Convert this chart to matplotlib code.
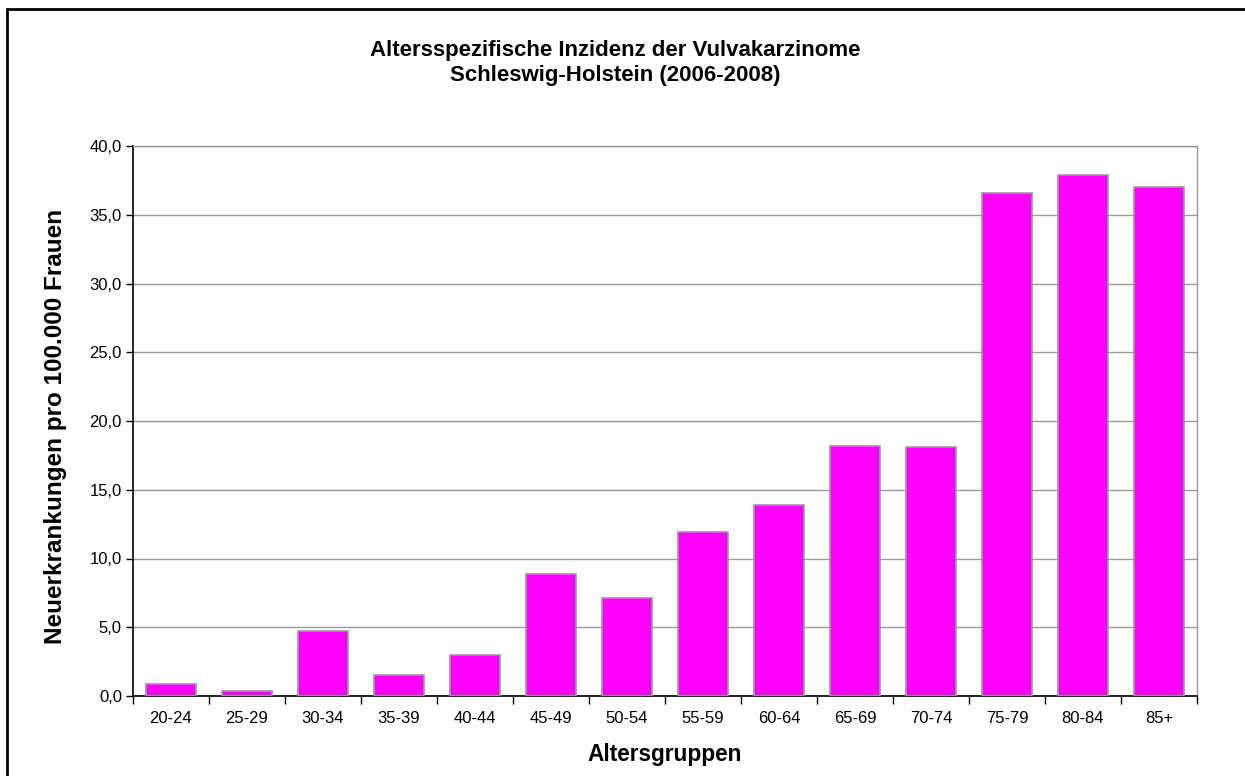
import matplotlib
matplotlib.use('agg')
import matplotlib.pyplot as plt
from matplotlib.patches import Rectangle
from matplotlib.ticker import FuncFormatter, FixedLocator
import numpy as np

plt.rcParams['font.family'] = ['Liberation Sans', 'DejaVu Sans']

# data
age_groups = ['20-24', '25-29', '30-34', '35-39', '40-44', '45-49', '50-54',
              '55-59', '60-64', '65-69', '70-74', '75-79', '80-84', '85+']
incidence = [0.9, 0.4, 4.75, 1.5, 2.95, 8.9, 7.15,
             11.9, 13.9, 18.2, 18.1, 36.6, 37.9, 37.0]
y_ticks = [0, 5, 10, 15, 20, 25, 30, 35, 40]

title = 'Altersspezifische Inzidenz der Vulvakarzinome\nSchleswig-Holstein (2006-2008)'
x_label = 'Altersgruppen'
y_label = 'Neuerkrankungen pro 100.000 Frauen'

fig = plt.figure(figsize=(12.45, 7.76), dpi=100)
ax = fig.add_axes([133 / 1245, 1 - 696 / 776, 1064 / 1245, 550 / 776])

x = np.arange(len(age_groups))
ax.bar(x, incidence, width=0.66, color='#FF00FF', edgecolor='#999999',
       linewidth=1.2, zorder=3)

ax.set_xlim(-0.5, len(age_groups) - 0.5)
ax.set_ylim(0, 40)
ax.set_yticks(y_ticks)
ax.yaxis.set_major_formatter(FuncFormatter(lambda v, p: f'{v:.1f}'.replace('.', ',')))
ax.grid(axis='y', color='#999999', linewidth=1, zorder=0)

# category labels centered, tick marks between categories
ax.xaxis.set_major_locator(FixedLocator(np.arange(-0.5, len(age_groups), 1.0)))
ax.xaxis.set_major_formatter(FuncFormatter(lambda v, p: ''))
ax.xaxis.set_minor_locator(FixedLocator(x))
ax.set_xticklabels(age_groups, minor=True)
ax.tick_params(axis='x', which='major', length=6, width=1, color='black', direction='out')
ax.tick_params(axis='x', which='minor', length=0, pad=11, labelsize=12)
ax.tick_params(axis='y', length=5, width=1, direction='out', labelsize=12, pad=3)

for s in ['top', 'right']:
    ax.spines[s].set_color('#999999')
    ax.spines[s].set_linewidth(1)
for s in ['left', 'bottom']:
    ax.spines[s].set_color('black')
    ax.spines[s].set_linewidth(1.2)

ax.set_xlabel(x_label, fontsize=16.3, fontweight='bold')
ax.xaxis.set_label_coords(0.5, -0.085)
ax.set_ylabel(y_label, fontsize=17.5, fontweight='bold')
ax.yaxis.set_label_coords(-0.062, 0.49)

fig.text(615 / 1245, 1 - 63 / 776, title, ha='center', va='center',
         fontsize=16, fontweight='bold', linespacing=1.25)

# outer frame, cut off at right and bottom as in the reference
fig.patches.append(Rectangle((7 / 1245, -0.1), 1.2, 0.1 + (776 - 9) / 776,
                             transform=fig.transFigure, fill=False,
                             edgecolor='black', linewidth=2, clip_on=False))

fig.savefig('out.png', dpi=100)
